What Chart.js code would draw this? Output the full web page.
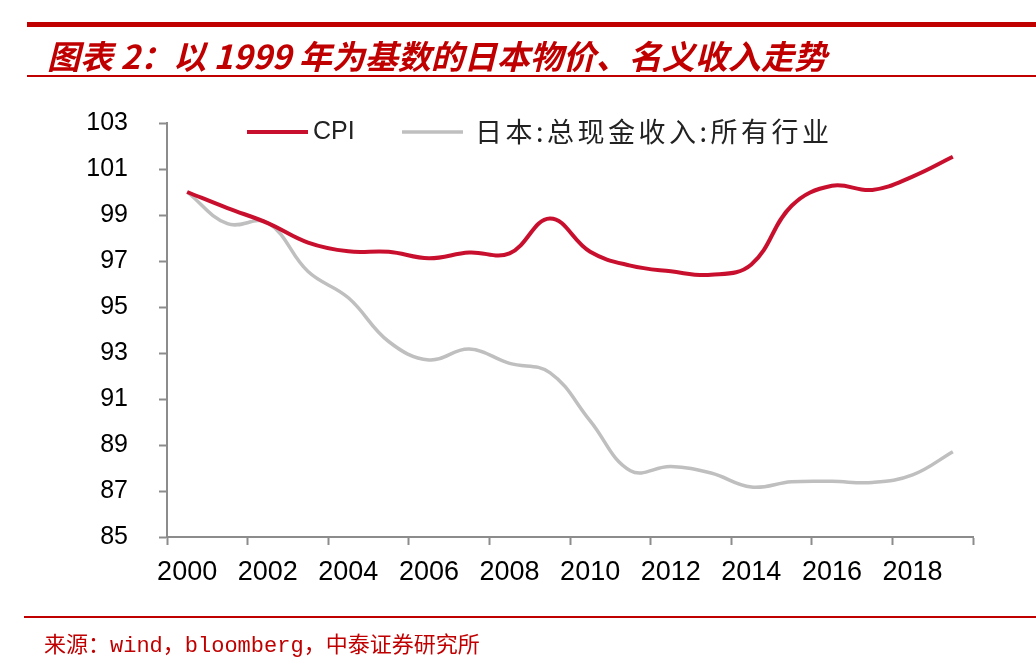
<!DOCTYPE html>
<html>
<head>
<meta charset="utf-8">
<script src="https://cdn.jsdelivr.net/npm/chart.js@4.4.1/dist/chart.umd.min.js"></script>
<style>
  html, body { margin: 0; padding: 0; background: #fff; }
  #wrap { position: relative; width: 1036px; height: 663px; overflow: hidden; }
  #chart { position: absolute; left: 0; top: 0; }
  .rule { position: absolute; right: 0; background: #c00000; }
  #title {
    position: absolute; left: 47px; top: 31px; line-height: 40px;
    font: italic 700 33px 'Noto Sans CJK SC', sans-serif; color: #c00000; white-space: nowrap;
  }
  #source {
    position: absolute; left: 44px; top: 626px; line-height: 28px;
    font: 22px 'Liberation Mono', 'Noto Sans CJK SC', monospace; color: #c00000; white-space: nowrap;
  }
</style>
</head>
<body>
<div id="wrap">
  <canvas id="chart" width="1036" height="663"></canvas>
  <div class="rule" style="left:27px; top:22px; height:5px"></div>
  <div id="title">图表 2：以 1999 年为基数的日本物价、名义收入走势</div>
  <div class="rule" style="left:27px; top:75px; height:2px"></div>
  <div class="rule" style="left:24px; top:616px; height:2px"></div>
  <div id="source">来源：wind，bloomberg，中泰证券研究所</div>
</div>
<script>
// données (base 1999 = 100)
const years = ["2000", "2001", "2002", "2003", "2004", "2005", "2006", "2007", "2008", "2009",
               "2010", "2011", "2012", "2013", "2014", "2015", "2016", "2017", "2018", "2019"]
const cpi = [100, 99.3, 98.65, 97.8, 97.42, 97.4, 97.12, 97.37, 97.33, 98.85,
             97.4, 96.8, 96.55, 96.4, 96.85, 99.4, 100.27, 100.09, 100.67, 101.53]
const income = [100, 98.62, 98.66, 96.54, 95.4, 93.5, 92.7, 93.17, 92.55, 92.15,
                90.05, 87.88, 88.06, 87.78, 87.17, 87.4, 87.42, 87.37, 87.7, 88.71]
const seriesNames = ["CPI", "日本:总现金收入:所有行业"]
const yMin = 85, yMax = 103, yStep = 2

const axisColor = "#8c8c8c"

// légende dessinée dans la zone du graphique
const insideLegend = {
  id: "insideLegend",
  afterDraw(chart) {
    const ctx = chart.ctx
    const items = [
      { x: 247, len: 61, textX: 313, font: "25px 'Liberation Sans', Arial, sans-serif", spacing: "0px" },
      { x: 402, len: 61, textX: 475, font: "27px 'Noto Sans CJK SC', sans-serif", spacing: "3.5px" }
    ]
    const y = 132
    chart.data.datasets.forEach((ds, i) => {
      const it = items[i]
      ctx.save()
      ctx.strokeStyle = ds.borderColor
      ctx.lineWidth = ds.borderWidth
      ctx.beginPath()
      ctx.moveTo(it.x, y)
      ctx.lineTo(it.x + it.len, y)
      ctx.stroke()
      ctx.font = it.font
      ctx.letterSpacing = it.spacing
      ctx.fillStyle = "#222"
      ctx.textBaseline = "middle"
      ctx.fillText(ds.label, it.textX, y)
      ctx.restore()
    })
  }
}

new Chart(document.getElementById("chart"), {
  type: "line",
  data: {
    labels: years,
    datasets: [
      {
        label: seriesNames[0],
        data: cpi,
        borderColor: "#c8102e",
        borderWidth: 4,
        pointRadius: 0,
        tension: 0.4
      },
      {
        label: seriesNames[1],
        data: income,
        borderColor: "#bfbfbf",
        borderWidth: 3.5,
        pointRadius: 0,
        tension: 0.4
      }
    ]
  },
  options: {
    responsive: false,
    animation: false,
    layout: { padding: { top: 123, right: 63, bottom: 66, left: 0 } },
    plugins: {
      legend: { display: false },
      tooltip: { enabled: false }
    },
    scales: {
      x: {
        type: "category",
        offset: true,
        grid: {
          offset: true,
          drawOnChartArea: false,
          tickLength: 8,
          tickWidth: 2,
          tickColor: (c) => (c.index === undefined || c.index % 2 === 0) ? axisColor : "rgba(0,0,0,0)"
        },
        border: { color: axisColor, width: 2 },
        ticks: {
          autoSkip: false,
          maxRotation: 0,
          padding: 11,
          color: "#000",
          font: { family: "'Liberation Sans', Arial, sans-serif", size: 27 },
          callback: (v, i) => i % 2 === 0 ? years[i] : ""
        },
        afterFit: (s) => { s.height = 60 }
      },
      y: {
        min: yMin,
        max: yMax,
        grid: { drawOnChartArea: false, tickLength: 8, tickWidth: 2, tickColor: axisColor },
        border: { color: axisColor, width: 2 },
        ticks: {
          stepSize: yStep,
          padding: 31,
          color: "#000",
          font: { family: "'Liberation Sans', Arial, sans-serif", size: 25 }
        },
        afterFit: (s) => { s.width = 167 }
      }
    }
  },
  plugins: [insideLegend]
})
</script>
</body>
</html>
